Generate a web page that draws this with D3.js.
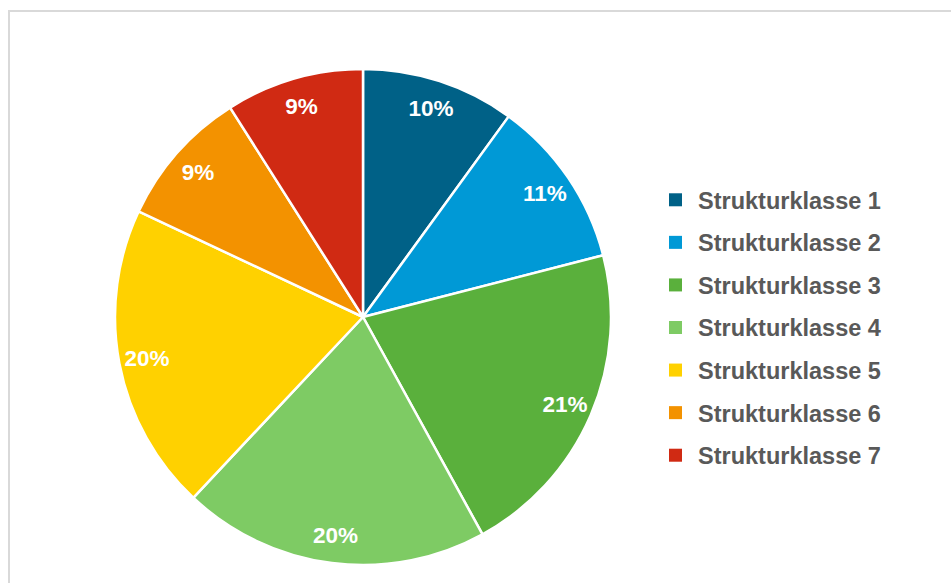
<!DOCTYPE html>
<html>
<head>
<meta charset="utf-8">
<script src="https://cdn.jsdelivr.net/npm/d3@7"></script>
<style>
  body { margin: 0; background: #fff; }
  svg { display: block; font-family: "Liberation Sans", Arial, sans-serif; }
</style>
</head>
<body>
<svg width="951" height="583"></svg>
<script>
// data
var categories = ["Strukturklasse 1", "Strukturklasse 2", "Strukturklasse 3",
  "Strukturklasse 4", "Strukturklasse 5", "Strukturklasse 6", "Strukturklasse 7"];
var values = [10, 11, 21, 20, 20, 9, 9];
var colors = ["#006187", "#0099d6", "#5ab03c", "#7ecb64", "#ffd100", "#f39200", "#d02a13"];

var svg = d3.select("svg");

// light frame around the chart area
svg.append("rect")
  .attr("x", 9).attr("y", 11)
  .attr("width", 960).attr("height", 600)
  .attr("fill", "none")
  .attr("stroke", "#d9d9d9")
  .attr("stroke-width", 2);

var cx = 363, cy = 317, radius = 248;

var data = categories.map(function(c, i) {
  return { name: c, value: values[i], color: colors[i] };
});

var pie = d3.pie()
  .sort(null)
  .value(function(d) { return d.value; });

var arc = d3.arc().innerRadius(0).outerRadius(radius);
var labelArc = d3.arc().innerRadius(220).outerRadius(220);

var g = svg.append("g").attr("transform", "translate(" + cx + "," + cy + ")");

var slices = pie(data);

g.selectAll("path")
  .data(slices)
  .enter()
  .append("path")
  .attr("d", arc)
  .attr("fill", function(d) { return d.data.color; })
  .attr("stroke", "#fff")
  .attr("stroke-width", 2.5)
  .attr("stroke-linejoin", "round");

g.selectAll("text")
  .data(slices)
  .enter()
  .append("text")
  .attr("transform", function(d) { return "translate(" + labelArc.centroid(d) + ")"; })
  .attr("text-anchor", "middle")
  .attr("dy", "0.36em")
  .attr("fill", "#fff")
  .attr("font-weight", "bold")
  .attr("font-size", 22.5)
  .text(function(d) { return d.data.value + "%"; });

// legend
var legendY = d3.scaleBand()
  .domain(categories)
  .range([179, 477]);

var legend = svg.append("g");

var items = legend.selectAll("g")
  .data(data)
  .enter()
  .append("g")
  .attr("transform", function(d) {
    return "translate(669," + (legendY(d.name) + legendY.bandwidth() / 2) + ")";
  });

items.append("rect")
  .attr("x", 0).attr("y", -7)
  .attr("width", 13).attr("height", 13)
  .attr("fill", function(d) { return d.color; });

items.append("text")
  .attr("x", 29)
  .attr("dy", "0.36em")
  .attr("fill", "#595959")
  .attr("font-weight", "bold")
  .attr("font-size", 23.5)
  .text(function(d) { return d.name; });
</script>
</body>
</html>
